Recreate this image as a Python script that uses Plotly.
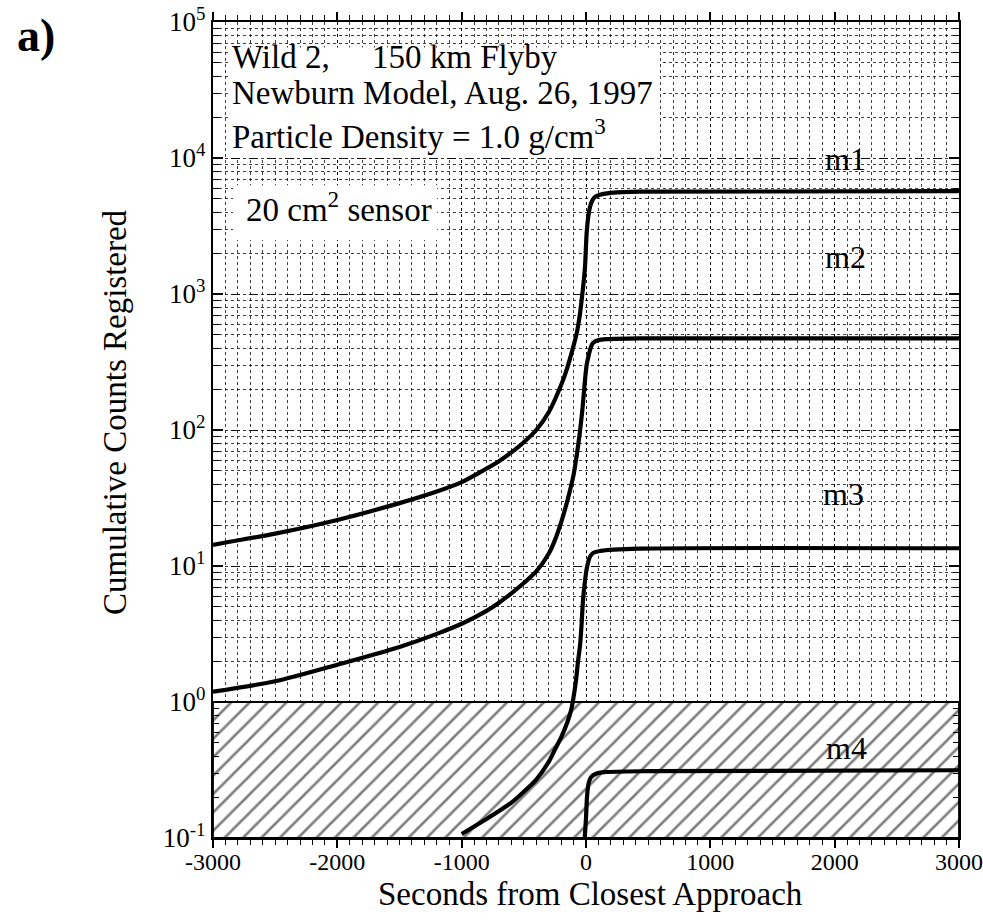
import plotly.graph_objects as go

# ---- data ----
m1_t = [-3000, -2500, -2000, -1500, -1200, -1000, -850, -700, -600, -500, -400, -300, -200, -150, -100,
        -75, -50, -35, -20, -8, 5, 18, 32, 50, 70, 113, 220, 434, 3000]
m1_n = [14.3, 17.3, 21.8, 29, 35.3, 41.4, 49, 58.9, 68.4, 81.3, 100, 135, 214, 288, 417,
        513, 700, 904, 1200, 1585, 2786, 3700, 4365, 4850, 5150, 5370, 5560, 5650, 5700]

m2_t = [-3000, -2500, -2000, -1500, -1200, -1000, -800, -700, -600, -500, -400, -300, -250, -200, -150,
        -100, -72, -50, -32, -20, -8, 5, 19, 40, 56, 100, 166, 434, 3000]
m2_n = [1.19, 1.42, 1.88, 2.54, 3.17, 3.76, 4.68, 5.37, 6.3, 7.5, 9.12, 12.3, 15.5, 20.9, 30.2,
        46.8, 67.6, 95, 133, 175, 234, 300, 346, 410, 437, 458, 466, 472, 472]

m3_t = [-1000, -800, -600, -500, -400, -300, -250, -200, -150, -120, -105, -80, -64, -48,
        -35, -24, -8, 8, 32, 60, 113, 434, 3000]
m3_n = [0.107, 0.138, 0.182, 0.219, 0.269, 0.363, 0.447, 0.55, 0.71, 0.87, 1.02, 1.45, 2.0, 2.6,
        3.8, 5.6, 7.8, 9.8, 11.7, 12.5, 12.9, 13.4, 13.5]

m4_t = [-10, 0, 8, 20, 40, 80, 150, 500, 3000]
m4_n = [0.10, 0.14, 0.20, 0.25, 0.28, 0.297, 0.305, 0.31, 0.315]

series_names = ["m1", "m2", "m3", "m4"]
x_ticks = [-3000, -2000, -1000, 0, 1000, 2000, 3000]
x_tick_text = ["-3000", "-2000", "-1000", "0", "1000", "2000", "3000"]
y_ticks = [0.1, 1, 10, 100, 1000, 10000, 100000]
y_tick_text = ["10<sup>-1</sup>", "10<sup>0</sup>", "10<sup>1</sup>", "10<sup>2</sup>",
               "10<sup>3</sup>", "10<sup>4</sup>", "10<sup>5</sup>"]
threshold = 1.0          # counts below one are hatched
x_min, x_max = -3000, 3000
y_min = 0.1

FONT = "Liberation Serif"

fig = go.Figure()

# white boxes behind the text
fig.add_trace(go.Scatter(x=[-2880, 595, 595, -2880, -2880], y=[10000, 10000, 65000, 65000, 10000],
                         fill="toself", fillcolor="white", line=dict(width=0), mode="lines",
                         hoverinfo="skip", showlegend=False))
fig.add_trace(go.Scatter(x=[-2839, -1198, -1198, -2839, -2839], y=[2500, 2500, 6310, 6310, 2500],
                         fill="toself", fillcolor="white", line=dict(width=0), mode="lines",
                         hoverinfo="skip", showlegend=False))

# hatched region below one count
fig.add_trace(go.Scatter(x=[x_min, x_max, x_max, x_min, x_min],
                         y=[y_min, y_min, threshold, threshold, y_min],
                         fill="toself", mode="lines",
                         line=dict(color="black", width=1.8),
                         fillpattern=dict(shape="/", size=13, solidity=0.2,
                                          fgcolor="black", bgcolor="white"),
                         fillcolor="white",
                         hoverinfo="skip", showlegend=False))

for t, n, name in [(m1_t, m1_n, "m1"), (m2_t, m2_n, "m2"), (m3_t, m3_n, "m3"), (m4_t, m4_n, "m4")]:
    fig.add_trace(go.Scatter(x=t, y=n, mode="lines", name=name,
                             line=dict(color="black", width=4.2, shape="spline", smoothing=0.7),
                             showlegend=False))

fig.update_layout(
    width=983, height=920,
    margin=dict(l=213, r=24, t=22, b=82, autoexpand=False),
    paper_bgcolor="white", plot_bgcolor="white",
    font=dict(family=FONT, color="black", size=27),
)

fig.update_xaxes(
    range=[x_min, x_max], tickvals=x_ticks, ticktext=x_tick_text, automargin=False,
    showline=True, linecolor="black", linewidth=2.2, mirror="ticks",
    ticks="outside", ticklen=8, tickwidth=1.6, tickcolor="black",
    ticklabelstandoff=-7, ticklabeloverflow="allow",
    tickfont=dict(family=FONT, size=24, color="black"),
    showgrid=True, gridcolor="rgba(0,0,0,0.85)", griddash="dot", gridwidth=1,
    minor=dict(dtick=100, ticks="outside", ticklen=5, tickcolor="black", tickwidth=1.3,
               showgrid=True, gridcolor="rgba(0,0,0,0.75)", griddash="dot", gridwidth=1),
    zeroline=False,
)
fig.update_yaxes(
    type="log", range=[-1, 5], tickvals=y_ticks, ticktext=y_tick_text, automargin=False,
    showline=True, linecolor="black", linewidth=2.2, mirror="ticks",
    ticks="inside", ticklen=10, tickwidth=1.6, tickcolor="black",
    tickfont=dict(family=FONT, size=27, color="black"),
    showgrid=True, gridcolor="rgba(0,0,0,0.9)", griddash="dash", gridwidth=1,
    minor=dict(dtick="D1", ticks="inside", ticklen=6, tickcolor="black", tickwidth=1.3,
               showgrid=True, gridcolor="rgba(0,0,0,0.75)", griddash="dot", gridwidth=1),
    zeroline=False,
)

ann = []
def add_text(txt, x, y, size=33, xanchor="left", **kw):
    ann.append(dict(text=txt, x=x, y=y, xref="x", yref="y", showarrow=False,
                    xanchor=xanchor, yanchor="middle",
                    font=dict(family=FONT, size=size, color="black"), **kw))

add_text("Wild 2,", -2860, 4.745)
add_text("150 km Flyby", -1737, 4.745)
add_text("Newburn Model, Aug. 26, 1997", -2860, 4.48)
add_text("Particle Density = 1.0 g/cm<sup>3</sup>", -2860, 4.18)
add_text("20 cm<sup>2</sup> sensor", -2750, 3.64)

label_pos = {"m1": (2085, 3.99), "m2": (2085, 3.27), "m3": (2070, 1.53), "m4": (2095, -0.335)}
for name in series_names:
    lx, ly = label_pos[name]
    add_text(name, lx, ly, size=32, xanchor="center")

# axis titles and panel label
ann.append(dict(text="Seconds from Closest Approach", x=0.5054, y=-0.069, xref="paper", yref="paper",
                showarrow=False, xanchor="center", yanchor="middle",
                font=dict(family=FONT, size=33, color="black")))
ann.append(dict(text="Cumulative Counts Registered", x=-0.1314, y=0.522, xref="paper", yref="paper",
                showarrow=False, xanchor="center", yanchor="middle", textangle=-90,
                font=dict(family=FONT, size=33, color="black")))
ann.append(dict(text="<b>a)</b>", x=-0.265, y=0.983, xref="paper", yref="paper",
                showarrow=False, xanchor="left", yanchor="middle",
                font=dict(family=FONT, size=46, color="black")))
fig.update_layout(annotations=ann)

fig.write_html("out.html")
